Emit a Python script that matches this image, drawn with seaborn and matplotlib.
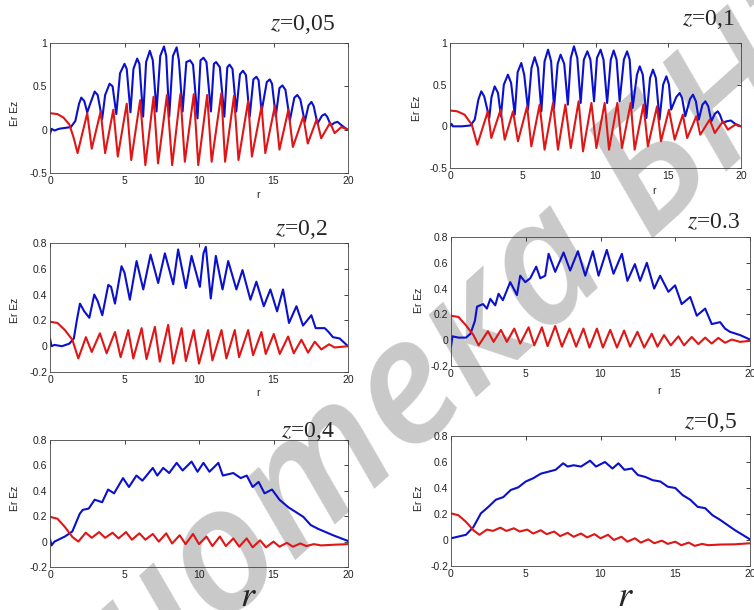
import numpy as np
import pandas as pd
import seaborn as sns
import matplotlib.pyplot as plt

# --- Data (r on x, Er / Ez on y) ---
titles = ['$z$=0,05', '$z$=0,1', '$z$=0,2', '$z$=0.3', '$z$=0,4', '$z$=0,5']
xticks = [0, 5, 10, 15, 20]
yticks_top = [-0.5, 0, 0.5, 1]
yticklabels_top = ['-0.5', '0', '0.5', '1']
yticks_low = [-0.2, 0, 0.2, 0.4, 0.6, 0.8]
yticklabels_low = ['-0.2', '0', '0.2', '0.4', '0.6', '0.8']

# z = 0,05
p1_r_blue = [0.0, 0.1, 0.3, 0.6, 1.0, 1.4, 1.7, 1.95, 2.1, 2.3, 2.5, 2.7, 3.0, 3.2, 3.5, 3.7, 4.0, 4.2,
             4.45, 4.7, 5.0, 5.15, 5.4, 5.6, 5.85, 6.0, 6.25, 6.45, 6.7, 6.9, 7.15, 7.4, 7.65, 7.8,
             8.0, 8.25, 8.5, 8.65, 8.9, 9.15, 9.4, 9.6, 9.9, 10.1, 10.3, 10.5, 10.8, 11.0, 11.15,
             11.4, 11.7, 11.9, 12.05, 12.25, 12.5, 12.75, 12.95, 13.15, 13.4, 13.65, 13.85, 14.0,
             14.2, 14.55, 14.75, 14.9, 15.15, 15.4, 15.6, 15.8, 16.1, 16.4, 16.6, 16.8, 17.1, 17.35,
             17.55, 17.7, 17.95, 18.25, 18.45, 18.6, 18.85, 19.1, 19.3, 19.5, 19.8, 20.0]
p1_blue = [-0.05, 0.01, -0.01, 0.01, 0.02, 0.03, 0.10, 0.30, 0.37, 0.33, 0.20, 0.30, 0.44, 0.40,
           0.12, 0.40, 0.53, 0.50, 0.18, 0.65, 0.76, 0.70, 0.20, 0.70, 0.82, 0.76, 0.15, 0.78, 0.91,
           0.80, 0.21, 0.85, 0.96, 0.85, 0.15, 0.85, 0.95, 0.80, 0.21, 0.78, 0.80, 0.75, 0.13, 0.80,
           0.83, 0.78, 0.21, 0.76, 0.78, 0.72, 0.15, 0.72, 0.75, 0.70, 0.21, 0.64, 0.68, 0.63, 0.15,
           0.58, 0.61, 0.57, 0.21, 0.55, 0.58, 0.53, 0.15, 0.48, 0.51, 0.46, 0.11, 0.37, 0.40, 0.35,
           0.09, 0.28, 0.32, 0.27, 0.07, 0.16, 0.18, 0.15, 0.05, 0.08, 0.09, 0.06, 0.02, 0.0]
p1_r_red = [0.0, 0.5, 0.9, 1.3, 1.6, 1.85, 2.5, 2.8, 3.4, 3.7, 4.25, 4.55, 5.15, 5.45, 6.05, 6.4,
            6.95, 7.25, 7.85, 8.2, 8.75, 9.05, 9.65, 9.95, 10.55, 10.85, 11.5, 11.75, 12.35, 12.65,
            13.3, 13.55, 14.2, 14.45, 15.1, 15.4, 16.0, 16.3, 17.0, 17.3, 17.9, 18.2, 18.8, 19.1,
            19.55, 20.0]
p1_red = [0.19, 0.18, 0.14, 0.06, -0.10, -0.27, 0.19, -0.22, 0.21, -0.27, 0.23, -0.31, 0.30, -0.35,
          0.34, -0.41, 0.38, -0.39, 0.40, -0.41, 0.41, -0.37, 0.41, -0.41, 0.40, -0.37, 0.42, -0.37,
          0.39, -0.35, 0.33, -0.31, 0.27, -0.27, 0.28, -0.23, 0.23, -0.20, 0.15, -0.16, 0.12, -0.10,
          0.08, -0.04, 0.03, 0.0]

# z = 0,1
p2_r_blue = [0.0, 0.1, 0.2, 0.8, 1.4, 1.7, 1.95, 2.15, 2.35, 2.7, 2.85, 3.07, 3.3, 3.5, 3.7, 3.98,
             4.2, 4.45, 4.65, 4.9, 5.1, 5.36, 5.6, 5.82, 6.05, 6.28, 6.5, 6.74, 6.95, 7.15, 7.4, 7.6,
             7.85, 8.1, 8.3, 8.52, 8.75, 8.98, 9.2, 9.44, 9.65, 9.9, 10.1, 10.35, 10.55, 10.8, 11.05,
             11.25, 11.45, 11.66, 11.95, 12.17, 12.35, 12.55, 12.85, 13.04, 13.25, 13.5, 13.75,
             13.95, 14.15, 14.4, 14.65, 14.87, 15.05, 15.2, 15.55, 15.78, 15.95, 16.17, 16.5, 16.7,
             16.9, 17.1, 17.35, 17.55, 17.75, 17.96, 18.2, 18.4, 18.55, 18.76, 19.0, 19.3, 19.6, 20.0]
p2_blue = [0.0, 0.03, 0.0, 0.0, 0.01, 0.08, 0.32, 0.42, 0.36, 0.10, 0.35, 0.48, 0.40, 0.12, 0.50,
           0.62, 0.52, 0.14, 0.65, 0.76, 0.62, 0.20, 0.70, 0.83, 0.70, 0.18, 0.78, 0.92, 0.78, 0.22,
           0.75, 0.86, 0.75, 0.26, 0.82, 0.96, 0.82, 0.28, 0.80, 0.90, 0.80, 0.30, 0.82, 0.92, 0.80,
           0.28, 0.80, 0.91, 0.80, 0.30, 0.80, 0.90, 0.80, 0.22, 0.62, 0.72, 0.62, 0.10, 0.58, 0.68,
           0.58, 0.08, 0.50, 0.60, 0.50, 0.20, 0.35, 0.40, 0.34, 0.12, 0.33, 0.38, 0.30, 0.08, 0.26,
           0.30, 0.24, 0.06, 0.15, 0.18, 0.14, 0.04, 0.06, 0.07, 0.03, 0.0]
p2_r_red = [0.0, 0.5, 1.0, 1.5, 1.88, 2.6, 2.84, 3.48, 3.76, 4.33, 4.67, 5.3, 5.59, 6.16, 6.5, 7.08,
            7.42, 7.93, 8.3, 8.84, 9.14, 9.72, 10.06, 10.63, 10.93, 11.5, 11.82, 12.42, 12.69, 13.3,
            13.6, 14.23, 14.5, 15.05, 15.44, 16.0, 16.3, 16.93, 17.2, 17.85, 18.2, 18.76, 19.1,
            19.6, 20.0]
p2_red = [0.19, 0.18, 0.14, 0.02, -0.22, 0.18, -0.14, 0.20, -0.16, 0.18, -0.18, 0.24, -0.24, 0.26,
          -0.28, 0.28, -0.28, 0.26, -0.26, 0.30, -0.30, 0.28, -0.26, 0.28, -0.28, 0.28, -0.26, 0.28,
          -0.28, 0.26, -0.24, 0.24, -0.18, 0.20, -0.16, 0.14, -0.14, 0.12, -0.10, 0.08, -0.08, 0.06,
          -0.04, 0.02, 0.0]

# z = 0,2
p3_r_blue = [0.0, 0.1, 0.3, 0.8, 1.3, 1.6, 1.8, 2.01, 2.3, 2.64, 2.97, 3.2, 3.51, 3.91, 4.1, 4.36,
             4.8, 5.0, 5.36, 5.81, 6.26, 6.75, 7.26, 7.71, 8.27, 8.6, 9.12, 9.5, 10.06, 10.3, 10.46,
             10.79, 11.13, 11.58, 11.96, 12.51, 12.92, 13.45, 13.85, 14.35, 14.79, 15.24, 15.64,
             16.04, 16.54, 16.98, 17.54, 17.83, 18.44, 18.7, 18.99, 19.44, 20.0]
p3_blue = [0.06, 0.0, 0.01, 0.0, 0.02, 0.06, 0.20, 0.33, 0.27, 0.22, 0.40, 0.35, 0.24, 0.475, 0.46,
           0.33, 0.62, 0.57, 0.36, 0.66, 0.44, 0.71, 0.49, 0.72, 0.48, 0.75, 0.45, 0.70, 0.46, 0.72,
           0.77, 0.37, 0.70, 0.44, 0.66, 0.44, 0.59, 0.36, 0.50, 0.31, 0.44, 0.27, 0.44, 0.18, 0.31,
           0.16, 0.24, 0.14, 0.14, 0.11, 0.07, 0.06, 0.0]
p3_r_red = [0.0, 0.5, 1.0, 1.5, 1.9, 2.41, 2.8, 3.35, 3.8, 4.36, 4.74, 5.25, 5.59, 6.15, 6.48, 7.04,
            7.37, 7.93, 8.27, 8.83, 9.12, 9.65, 10.0, 10.61, 10.9, 11.51, 11.84, 12.4, 12.69, 13.3,
            13.63, 14.19, 14.48, 15.02, 15.42, 15.98, 16.36, 16.87, 17.32, 17.77, 18.21, 18.73,
            19.1, 20.0]
p3_red = [0.19, 0.18, 0.125, 0.05, -0.095, 0.07, -0.045, 0.10, -0.055, 0.11, -0.085, 0.125, -0.095,
          0.14, -0.10, 0.15, -0.12, 0.165, -0.135, 0.14, -0.115, 0.125, -0.135, 0.125, -0.11, 0.125,
          -0.095, 0.125, -0.085, 0.125, -0.07, 0.11, -0.06, 0.095, -0.06, 0.075, -0.055, 0.05,
          -0.05, 0.035, -0.025, 0.015, -0.01, 0.0]

# z = 0.3
p4_r_blue = [0.0, 0.1, 0.5, 1.0, 1.3, 1.6, 1.74, 2.14, 2.4, 2.63, 2.96, 3.18, 3.47, 3.96, 4.19, 4.41,
             4.63, 4.97, 5.3, 5.7, 5.97, 6.3, 6.53, 6.97, 7.53, 7.97, 8.49, 8.98, 9.49, 9.87, 10.42,
             10.87, 11.43, 11.8, 12.3, 12.65, 13.1, 13.59, 13.99, 14.54, 14.99, 15.43, 16.0, 16.44,
             17.0, 17.44, 18.0, 18.33, 18.66, 19.33, 20.0]
p4_blue = [-0.05, 0.03, 0.02, 0.02, 0.05, 0.15, 0.26, 0.28, 0.245, 0.32, 0.27, 0.36, 0.31, 0.45,
           0.40, 0.35, 0.50, 0.45, 0.48, 0.57, 0.48, 0.50, 0.67, 0.53, 0.68, 0.54, 0.69, 0.50, 0.69,
           0.50, 0.70, 0.515, 0.67, 0.46, 0.59, 0.46, 0.60, 0.40, 0.50, 0.375, 0.425, 0.28, 0.335,
           0.19, 0.245, 0.125, 0.14, 0.09, 0.065, 0.04, 0.005]
p4_r_red = [0.0, 0.5, 1.0, 1.5, 1.85, 2.47, 2.85, 3.34, 3.74, 4.23, 4.63, 5.19, 5.57, 6.08, 6.46,
            6.97, 7.42, 7.93, 8.37, 8.86, 9.26, 9.76, 10.16, 10.65, 11.1, 11.58, 11.98, 12.47, 12.92,
            13.43, 13.81, 14.25, 14.7, 15.21, 15.59, 16.1, 16.55, 17.0, 17.44, 17.88, 18.33, 18.78,
            19.33, 20.0]
p4_red = [0.19, 0.18, 0.115, 0.04, -0.04, 0.07, -0.013, 0.08, -0.013, 0.09, -0.026, 0.10, -0.04,
          0.10, -0.046, 0.11, -0.05, 0.09, -0.05, 0.09, -0.057, 0.09, -0.057, 0.08, -0.057, 0.075,
          -0.05, 0.065, -0.057, 0.05, -0.05, 0.04, -0.04, 0.03, -0.04, 0.025, -0.03, 0.02, -0.026,
          0.018, -0.02, 0.005, -0.013, -0.005]

# z = 0,4
p5_r_blue = [0.0, 0.1, 0.3, 1.0, 1.5, 2.0, 2.2, 2.6, 3.0, 3.5, 3.9, 4.3, 4.9, 5.3, 5.8, 6.2, 6.9,
             7.2, 7.6, 8.0, 8.5, 8.9, 9.5, 9.9, 10.3, 10.7, 11.3, 11.6, 12.3, 12.8, 13.2, 13.6,
             14.0, 14.4, 14.9, 15.4, 16.0, 17.0, 17.5, 18.0, 19.0, 20.0]
p5_blue = [0.02, -0.03, 0.0, 0.04, 0.08, 0.22, 0.25, 0.26, 0.33, 0.31, 0.41, 0.38, 0.50, 0.43, 0.52,
           0.48, 0.58, 0.52, 0.58, 0.54, 0.62, 0.56, 0.63, 0.55, 0.62, 0.55, 0.62, 0.52, 0.54, 0.50,
           0.52, 0.43, 0.47, 0.38, 0.41, 0.33, 0.27, 0.195, 0.13, 0.10, 0.05, 0.005]
p5_r_red = [0.0, 0.5, 1.0, 1.5, 1.9, 2.4, 2.8, 3.3, 3.7, 4.2, 4.6, 5.1, 5.5, 6.0, 6.4, 6.9, 7.3, 7.8,
            8.2, 8.7, 9.1, 9.6, 10.0, 10.5, 10.9, 11.4, 11.8, 12.3, 12.7, 13.2, 13.6, 14.1, 14.5,
            15.0, 15.4, 15.9, 16.3, 16.8, 17.2, 17.7, 18.2, 19.0, 20.0]
p5_red = [0.195, 0.18, 0.115, 0.037, 0.0, 0.07, 0.03, 0.075, 0.03, 0.07, 0.025, 0.075, 0.015, 0.065,
          0.015, 0.06, 0.0, 0.065, -0.015, 0.05, -0.02, 0.06, -0.02, 0.04, -0.035, 0.04, -0.035,
          0.025, -0.04, 0.025, -0.045, 0.01, -0.045, 0.0, -0.04, -0.01, -0.04, -0.015, -0.035,
          -0.02, -0.03, -0.025, -0.02]

# z = 0,5
p6_r_blue = [0.0, 1.0, 1.5, 2.0, 2.5, 3.0, 3.5, 4.0, 4.5, 5.0, 5.5, 6.0, 6.5, 7.0, 7.5, 7.8, 8.2,
             8.7, 9.3, 9.7, 10.3, 10.8, 11.2, 11.6, 12.1, 12.5, 13.0, 13.5, 14.0, 14.5, 15.0, 15.5,
             16.0, 16.5, 17.0, 17.5, 18.0, 18.5, 19.0, 19.5, 20.0]
p6_blue = [0.013, 0.04, 0.10, 0.205, 0.255, 0.31, 0.33, 0.385, 0.405, 0.45, 0.475, 0.51, 0.525,
           0.54, 0.59, 0.565, 0.575, 0.565, 0.61, 0.565, 0.60, 0.55, 0.59, 0.54, 0.55, 0.50, 0.485,
           0.46, 0.45, 0.41, 0.40, 0.345, 0.31, 0.255, 0.245, 0.19, 0.155, 0.115, 0.075, 0.04, 0.005]
p6_r_red = [0.0, 0.5, 1.0, 1.5, 1.9, 2.4, 2.8, 3.3, 3.7, 4.2, 4.6, 5.1, 5.5, 6.0, 6.4, 6.9, 7.3, 7.8,
            8.2, 8.7, 9.1, 9.6, 10.0, 10.5, 10.9, 11.4, 11.8, 12.3, 12.7, 13.2, 13.6, 14.1, 14.5,
            15.0, 15.4, 15.9, 16.3, 16.8, 17.2, 18.0, 19.0, 20.0]
p6_red = [0.205, 0.19, 0.14, 0.075, 0.04, 0.08, 0.07, 0.095, 0.07, 0.09, 0.065, 0.08, 0.05, 0.075,
          0.045, 0.065, 0.03, 0.055, 0.025, 0.05, 0.02, 0.045, 0.013, 0.04, 0.0, 0.025, -0.013,
          0.013, -0.02, 0.005, -0.025, -0.005, -0.03, -0.013, -0.04, -0.02, -0.045, -0.03, -0.04,
          -0.035, -0.033, -0.025]

curves = [
    (p1_r_blue, p1_blue, p1_r_red, p1_red),
    (p2_r_blue, p2_blue, p2_r_red, p2_red),
    (p3_r_blue, p3_blue, p3_r_red, p3_red),
    (p4_r_blue, p4_blue, p4_r_red, p4_red),
    (p5_r_blue, p5_blue, p5_r_red, p5_red),
    (p6_r_blue, p6_blue, p6_r_red, p6_red),
]

# --- Layout (pixel boxes in a 754x610 canvas: left, top, right, bottom) ---
W, H = 754, 610
boxes = [(50, 43, 348, 173), (450, 43, 741, 168),
         (50, 243, 348, 372), (451, 237, 750, 366),
         (50, 440, 348, 567), (451, 436, 750, 566)]
title_pos = [(335, 30), (735, 25), (328, 235), (740, 228), (335, 437), (737, 428)]
ylabel_pos = [(15, 113), (417, 108), (15, 310), (419, 300), (15, 498), (419, 498)]
small_r_pos = [(258, 195), (654, 191), (258, 393), (659, 391)]
big_r_pos = [(248, 606), (625, 606)]

sns.set_theme(style='white')
plt.rcParams['font.family'] = ['Liberation Sans', 'DejaVu Sans']
plt.rcParams['mathtext.fontset'] = 'stix'

BLUE = '#0a10cc'
RED = '#e01515'

fig = plt.figure(figsize=(W / 100, H / 100), dpi=100)
fig.patch.set_facecolor('white')

# faint watermark running diagonally behind the plots
fig.text(370 / W, 1 - 433 / H, 'Библиотека БНТУ', rotation=42, fontsize=124, color='#c9c9c9',
         ha='center', va='center', style='italic', weight=600,
         family=['Open Sans', 'DejaVu Sans'], zorder=-1)

for i, (rb, vb, rr, vr) in enumerate(curves):
    l, t, r, b = boxes[i]
    ax = fig.add_axes([l / W, 1 - b / H, (r - l) / W, (b - t) / H])
    ax.set_facecolor('none')

    sns.lineplot(x=rb, y=vb, ax=ax, color=BLUE, linewidth=1.5, estimator=None)
    sns.lineplot(x=rr, y=vr, ax=ax, color=RED, linewidth=1.5, estimator=None)

    ax.set_xlim(0, 20)
    ax.set_xticks(xticks)
    ax.set_xticklabels([str(v) for v in xticks])
    if i < 2:
        ax.set_ylim(-0.5, 1)
        ax.set_yticks(yticks_top)
        ax.set_yticklabels(yticklabels_top)
    else:
        ax.set_ylim(-0.2, 0.8)
        ax.set_yticks(yticks_low)
        ax.set_yticklabels(yticklabels_low)

    ax.tick_params(direction='in', top=True, right=True, length=3, width=0.6,
                   labelsize=7.5, pad=2, colors='#222222')
    for sp in ax.spines.values():
        sp.set_linewidth(0.6)
        sp.set_color('#444444')
    ax.set_xlabel('')
    ax.set_ylabel('')

    tx, ty = title_pos[i]
    fig.text(tx / W, 1 - ty / H, titles[i], family='Liberation Serif', fontsize=17,
             ha='right', va='baseline')
    yx, yy = ylabel_pos[i]
    fig.text(yx / W, 1 - yy / H, 'Er Ez', rotation=90, fontsize=7.5,
             ha='center', va='center', color='#222222')

for x, y in small_r_pos:
    fig.text(x / W, 1 - y / H, 'r', fontsize=7.5, ha='center', va='center', color='#222222')
for x, y in big_r_pos:
    fig.text(x / W, 1 - y / H, '$r$', fontsize=26, ha='center', va='baseline')

fig.savefig('out.png', dpi=100)
